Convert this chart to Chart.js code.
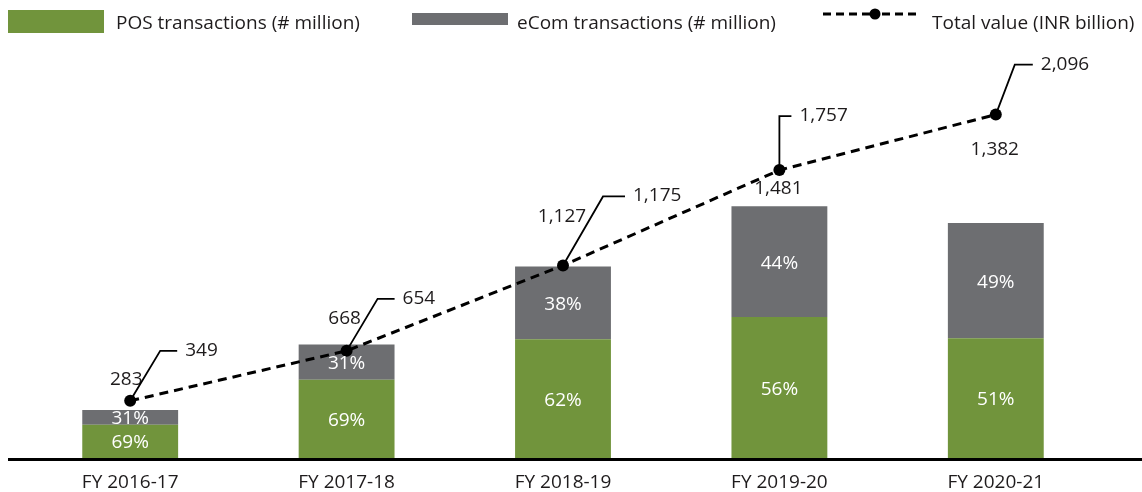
<!DOCTYPE html>
<html>
<head>
<meta charset="utf-8">
<title>Card transactions</title>
<script src="https://cdn.jsdelivr.net/npm/chart.js@4.4.1/dist/chart.umd.min.js"></script>
<style>
  html, body { margin: 0; padding: 0; background: #fff; }
  #wrap { width: 1142px; height: 492px; position: relative; }
</style>
</head>
<body>
<div id="wrap"><canvas id="c" width="1142" height="492"></canvas></div>
<script>
// Fiscal years on the category axis
const years = ['FY 2016-17', 'FY 2017-18', 'FY 2018-19', 'FY 2019-20', 'FY 2020-21'];
// Transactions (# million), split by channel
const posTxn  = [195, 461, 699, 829, 705];
const ecomTxn = [88, 207, 428, 652, 677];
// Total transactions (# million) shown above each stack
const totalTxn = [283, 668, 1127, 1481, 1382];
// Channel shares (%) printed inside the segments
const posShare  = [69, 69, 62, 56, 51];
const ecomShare = [31, 31, 38, 44, 49];
// Total value (INR billion)
const totalValue = [349, 654, 1175, 1757, 2096];

const FONT = '"Open Sans", "Noto Sans", sans-serif';
const FS = 19;
const INK = '#1e1b1c';
const GREEN = '#71943c';
const GREY = '#6d6e71';

const fmt = v => v.toLocaleString('en-US');

// Leader-line geometry for the value callouts, relative to each line point
const callouts = [
  { ex: 30, ey: -50, run: 17 },
  { ex: 31, ey: -52, run: 17 },
  { ex: 40, ey: -69, run: 22 },
  { ex: 0,  ey: -54, run: 12 },
  { ex: 19, ey: -50, run: 18 }
];
// Placement of each stack total (text baseline): next to the line marker
// where the marker sits on the stack, otherwise above the stack itself
const totalPos = [
  { at: 'point', dx: -4, dy: -16 },
  { at: 'point', dx: -2, dy: -27 },
  { at: 'point', dx: -1, dy: -43 },
  { at: 'bar',   dx: -1, dy: -12 },
  { at: 'bar',   dx: -1, dy: -68 }
];

const legendPlugin = {
  id: 'topLegend',
  afterDraw(chart) {
    const c = chart.ctx;
    c.save();
    c.font = `${FS}px ${FONT}`;
    c.textBaseline = 'alphabetic';
    c.textAlign = 'left';
    // POS swatch
    c.fillStyle = GREEN;
    c.fillRect(8, 10, 96, 23);
    c.fillStyle = INK;
    c.fillText(chart.data.datasets[1].label, 116, 29);
    // eCom swatch
    c.fillStyle = GREY;
    c.fillRect(412, 13, 96, 12);
    c.fillStyle = INK;
    c.fillText(chart.data.datasets[2].label, 517, 29);
    // Total value swatch: dashed line with marker
    c.strokeStyle = '#000';
    c.lineWidth = 3;
    c.setLineDash([8, 5]);
    c.beginPath();
    c.moveTo(823, 14); c.lineTo(870, 14);
    c.moveTo(882, 14); c.lineTo(918, 14);
    c.stroke();
    c.setLineDash([]);
    c.fillStyle = '#000';
    c.beginPath(); c.arc(875, 14, 5.5, 0, Math.PI * 2); c.fill();
    c.fillStyle = INK;
    c.fillText(chart.data.datasets[0].label, 932, 29);
    c.restore();
  }
};

const axisLinePlugin = {
  id: 'axisLine',
  afterDatasetsDraw(chart) {
    const c = chart.ctx;
    const y = chart.chartArea.bottom;
    c.save();
    c.fillStyle = '#000';
    c.fillRect(8, y, chart.width - 8, 3);
    c.restore();
  }
};

const labelPlugin = {
  id: 'valueLabels',
  afterDatasetsDraw(chart) {
    const c = chart.ctx;
    c.save();
    c.font = `${FS}px ${FONT}`;
    c.textBaseline = 'alphabetic';
    // percentages inside the bar segments
    const shares = [null, posShare, ecomShare];
    [1, 2].forEach(di => {
      chart.getDatasetMeta(di).data.forEach((bar, i) => {
        const mid = (bar.y + bar.base) / 2;
        c.fillStyle = '#fff';
        c.textAlign = 'center';
        c.fillText(shares[di][i] + '%', bar.x, mid + 7);
      });
    });
    const pts = chart.getDatasetMeta(0).data;
    const tops = chart.getDatasetMeta(2).data;
    // stack totals
    tops.forEach((bar, i) => {
      const t = totalPos[i];
      const ref = t.at === 'point' ? pts[i] : bar;
      c.fillStyle = INK;
      c.textAlign = 'center';
      c.fillText(fmt(totalTxn[i]), ref.x + t.dx, ref.y + t.dy);
    });
    // callouts for the total value line
    pts.forEach((p, i) => {
      const k = callouts[i];
      const ex = p.x + k.ex, ey = p.y + k.ey;
      c.strokeStyle = '#000';
      c.lineWidth = 1.8;
      c.beginPath();
      c.moveTo(p.x, p.y);
      c.lineTo(ex, ey);
      c.lineTo(ex + k.run, ey);
      c.stroke();
      c.fillStyle = INK;
      c.textAlign = 'left';
      c.fillText(fmt(totalValue[i]), ex + k.run + 8, ey + 5);
    });
    c.restore();
  }
};

new Chart(document.getElementById('c'), {
  type: 'bar',
  data: {
    labels: years,
    datasets: [
      {
        type: 'line',
        label: 'Total value (INR billion)',
        data: totalValue,
        yAxisID: 'yValue',
        borderColor: '#000',
        borderWidth: 3,
        borderDash: [9, 6],
        pointRadius: 6,
        pointBackgroundColor: '#000',
        pointBorderWidth: 0,
        tension: 0,
        fill: false,
        order: 0
      },
      {
        label: 'POS transactions (# million)',
        data: posTxn,
        backgroundColor: GREEN,
        stack: 'txn',
        yAxisID: 'y',
        barPercentage: 0.443,
        categoryPercentage: 1,
        order: 1
      },
      {
        label: 'eCom transactions (# million)',
        data: ecomTxn,
        backgroundColor: GREY,
        stack: 'txn',
        yAxisID: 'y',
        barPercentage: 0.443,
        categoryPercentage: 1,
        order: 1
      }
    ]
  },
  options: {
    responsive: false,
    animation: false,
    devicePixelRatio: 1,
    layout: { padding: { top: 50, left: 22, right: 38, bottom: 0 } },
    plugins: { legend: { display: false }, tooltip: { enabled: false } },
    scales: {
      x: {
        stacked: true,
        grid: { display: false, drawTicks: false },
        border: { display: false },
        ticks: { color: INK, font: { family: FONT, size: FS }, padding: 13 },
        afterFit(s) { s.height = 34; }
      },
      y: { stacked: true, display: false, min: 0, max: 2400 },
      yValue: { display: false, min: 0, max: 2490 }
    }
  },
  plugins: [legendPlugin, axisLinePlugin, labelPlugin]
});
</script>
</body>
</html>
